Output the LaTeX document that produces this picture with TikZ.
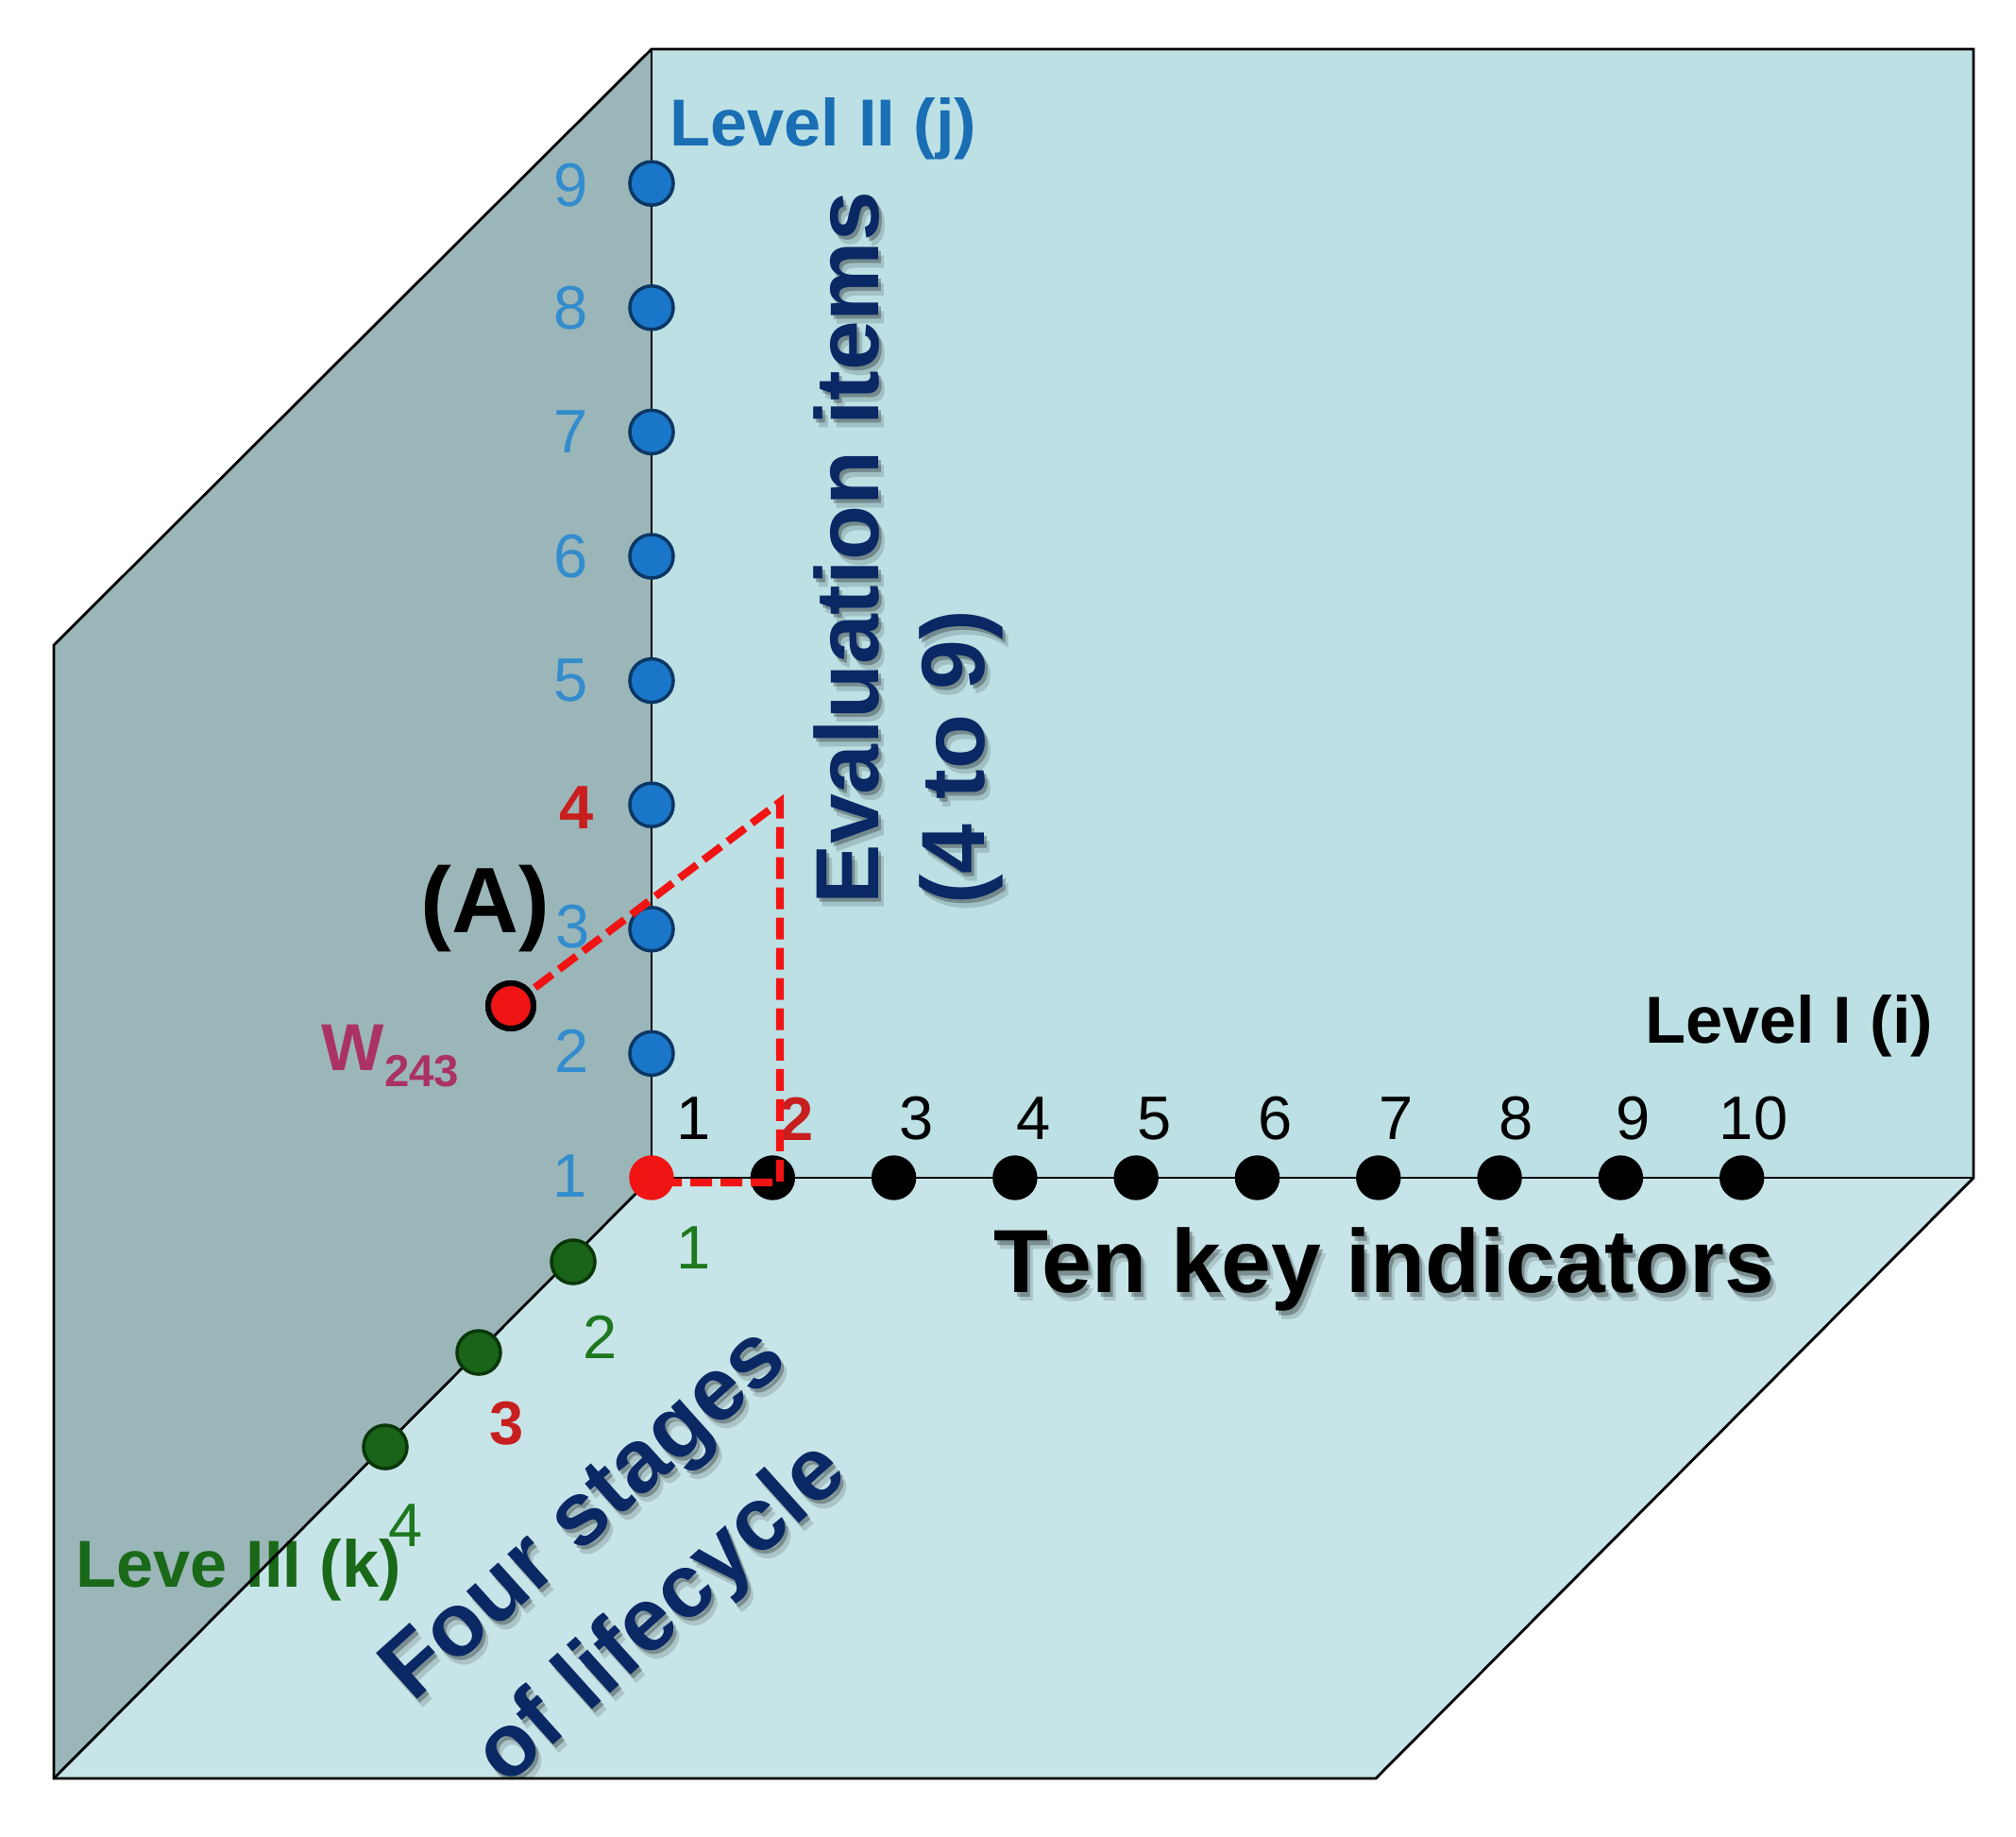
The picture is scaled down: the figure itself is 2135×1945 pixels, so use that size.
\documentclass[tikz,border=0pt]{standalone}
\usepackage{fontspec}
\setmainfont{Liberation Sans}
\definecolor{backc}{RGB}{188,224,228}
\definecolor{botc}{RGB}{199,229,232}
\definecolor{leftc}{RGB}{155,182,185}
\definecolor{bluedot}{RGB}{25,118,200}
\definecolor{blueout}{RGB}{12,55,100}
\definecolor{bluelab}{RGB}{50,140,205}
\definecolor{bluetitle}{RGB}{25,110,180}
\definecolor{greendot}{RGB}{25,100,25}
\definecolor{greenout}{RGB}{10,55,10}
\definecolor{greenlab}{RGB}{30,120,30}
\definecolor{greentitle}{RGB}{25,105,25}
\definecolor{redbold}{RGB}{200,30,30}
\definecolor{reddot}{RGB}{240,20,20}
\definecolor{navy}{RGB}{10,40,100}
\definecolor{wcol}{RGB}{170,50,100}
\tikzset{
  edge/.style={draw=black, line width=0.8pt},
  bdot/.style={circle, fill=bluedot, draw=blueout, line width=1pt, minimum size=0.46cm, inner sep=0pt},
  kdot/.style={circle, fill=black, draw=black, minimum size=0.46cm, inner sep=0pt},
  gdot/.style={circle, fill=greendot, draw=greenout, line width=1pt, minimum size=0.46cm, inner sep=0pt},
  odot/.style={circle, fill=reddot, draw=reddot, minimum size=0.46cm, inner sep=0pt},
  wdot/.style={circle, fill=reddot, draw=black, line width=1.7pt, minimum size=0.48cm, inner sep=0pt},
  num/.style={font=\fontsize{18.5}{22}\selectfont, inner sep=0pt},
  numb/.style={font=\fontsize{18.5}{22}\selectfont\bfseries, inner sep=0pt, text=redbold},
  ttl/.style={font=\fontsize{20}{24}\selectfont\bfseries, inner sep=0pt},
  big/.style={font=\fontsize{27}{32}\selectfont\bfseries, inner sep=0pt},
  shA/.style={text=black, opacity=0.28},
  shB/.style={text=black, opacity=0.14},
  reddash/.style={draw=reddot, line width=2.3pt, dash pattern=on 0.23cm off 0.09cm}
}
\begin{document}
\begin{tikzpicture}[x=0.01cm,y=-0.01cm]
\useasboundingbox (0,0) rectangle (2135,1945);
\fill[white] (0,0) rectangle (2135,1945);
% cube corners
\coordinate (O) at (690,1247);
\coordinate (TL) at (690,52);
\coordinate (TR) at (2090,52);
\coordinate (BR) at (2090,1247);
\coordinate (LT) at (57,683);
\coordinate (LB) at (57,1883);
\coordinate (FR) at (1457,1883);
% faces
\fill[backc] (O) -- (TL) -- (TR) -- (BR) -- cycle;
\fill[leftc] (O) -- (TL) -- (LT) -- (LB) -- cycle;
\fill[botc] (O) -- (BR) -- (FR) -- (LB) -- cycle;
% big texts with soft shadow
\node[big, shB, rotate=90, anchor=base west] at (936,967) {Evaluation items};
\node[big, shA, rotate=90, anchor=base west] at (933,962) {Evaluation items};
\node[big, text=navy, rotate=90, anchor=base west] (ev1) at (930,958) {Evaluation items};
\node[big, shB, rotate=90, anchor=base west] at (1048,967) {(4 to 9)};
\node[big, shA, rotate=90, anchor=base west] at (1045,962) {(4 to 9)};
\node[big, text=navy, rotate=90, anchor=base west] (ev2) at (1042,958) {(4 to 9)};
\node[big, shB, anchor=base west] at (1058,1377) {Ten key indicators};
\node[big, shA, anchor=base west] at (1055,1373) {Ten key indicators};
\node[big, text=black, anchor=base west] (ten) at (1052,1368) {Ten key indicators};
\begin{scope}
\clip (0,0) rectangle (2135,1883);
\node[big, shB, rotate=42] at (628,1616) {Four stages};
\node[big, shA, rotate=42] at (625,1611) {Four stages};
\node[big, text=navy, rotate=42] (fs1) at (622,1607) {Four stages};
\node[big, shB, rotate=42] at (708,1719) {of lifecycle};
\node[big, shA, rotate=42] at (705,1714) {of lifecycle};
\node[big, text=navy, rotate=42] (fs2) at (702,1710) {of lifecycle};
\end{scope}
\node[ttl, text=greentitle, anchor=base west] (l3) at (80,1680) {Leve III (k)};
% edges and axes
\draw[edge] (TL) -- (TR) -- (BR) -- (FR) -- (LB) -- (LT) -- cycle;
\draw[edge] (TL) -- (O) -- (BR);
\draw[edge] (O) -- (LB);
% titles
\node[ttl, text=bluetitle, anchor=base west] (l2) at (709,154) {Level II (j)};
\node[ttl, text=black, anchor=base east] (l1) at (2048,1104) {Level I (i)};
% Level II dots (j)
\node[bdot] (j2) at (690,1115.4) {};
\node[bdot] (j3) at (690,983.8) {};
\node[bdot] (j4) at (690,852.2) {};
\node[bdot] (j5) at (690,720.6) {};
\node[bdot] (j6) at (690,589) {};
\node[bdot] (j7) at (690,457.4) {};
\node[bdot] (j8) at (690,325.8) {};
\node[bdot] (j9) at (690,194.2) {};
\node[num, text=bluelab] (tj1) at (604,1245) {1};
\node[num, text=bluelab] (tj2) at (606,1113) {2};
\node[num, text=bluelab] (tj3) at (607,981) {3};
\node[numb] (tj4) at (611,855) {4};
\node[num, text=bluelab] (tj5) at (605,720) {5};
\node[num, text=bluelab] (tj6) at (605,589) {6};
\node[num, text=bluelab] (tj7) at (605,457) {7};
\node[num, text=bluelab] (tj8) at (605,326) {8};
\node[num, text=bluelab] (tj9) at (605,196) {9};
% Level I dots (i)
\node[kdot] (i2) at (818.3,1247) {};
\node[kdot] (i3) at (946.6,1247) {};
\node[kdot] (i4) at (1074.9,1247) {};
\node[kdot] (i5) at (1203.2,1247) {};
\node[kdot] (i6) at (1331.5,1247) {};
\node[kdot] (i7) at (1459.8,1247) {};
\node[kdot] (i8) at (1588.1,1247) {};
\node[kdot] (i9) at (1716.4,1247) {};
\node[kdot] (i10) at (1844.7,1247) {};
\node[num] (ti1) at (735,1184) {1};
\node[numb] (ti2) at (844,1185) {2};
\node[num] (ti3) at (971,1184) {3};
\node[num] (ti4) at (1095,1184) {4};
\node[num] (ti5) at (1223,1184) {5};
\node[num] (ti6) at (1351,1184) {6};
\node[num] (ti7) at (1479,1184) {7};
\node[num] (ti8) at (1606,1184) {8};
\node[num] (ti9) at (1730,1184) {9};
\node[num] (ti10) at (1857,1184) {10};
% Level III dots (k)
\node[gdot] (k2) at (607,1336) {};
\node[gdot] (k3) at (507,1432) {};
\node[gdot] (k4) at (408,1532) {};
\node[num, text=greenlab] (tk1) at (735,1321) {1};
\node[num, text=greenlab] (tk2) at (636,1416) {2};
\node[numb] (tk3) at (537,1507) {3};
\node[num, text=greenlab] (tk4) at (430,1615) {4};
% origin
\node[odot] (o) at (O) {};
% dashed construction lines
\node[wdot] (w) at (541,1065) {};
\coordinate (c24) at (826,849);
\coordinate (c2) at (826,1252);
\coordinate (c1) at (692,1252);
\draw[reddash] (w.center) -- (c24) -- (c2) -- (c1);
\node[wdot] at (w) {};
\node[font=\fontsize{28}{32}\selectfont\bfseries, inner sep=0pt] (A) at (514,962) {(A)};
\node[font=\fontsize{20}{24}\selectfont\bfseries, text=wcol, inner sep=0pt, anchor=base west] (wl) at (340,1133) {W\raisebox{-0.17cm}{\fontsize{13.5}{16}\selectfont 243}};
\end{tikzpicture}
\end{document}
